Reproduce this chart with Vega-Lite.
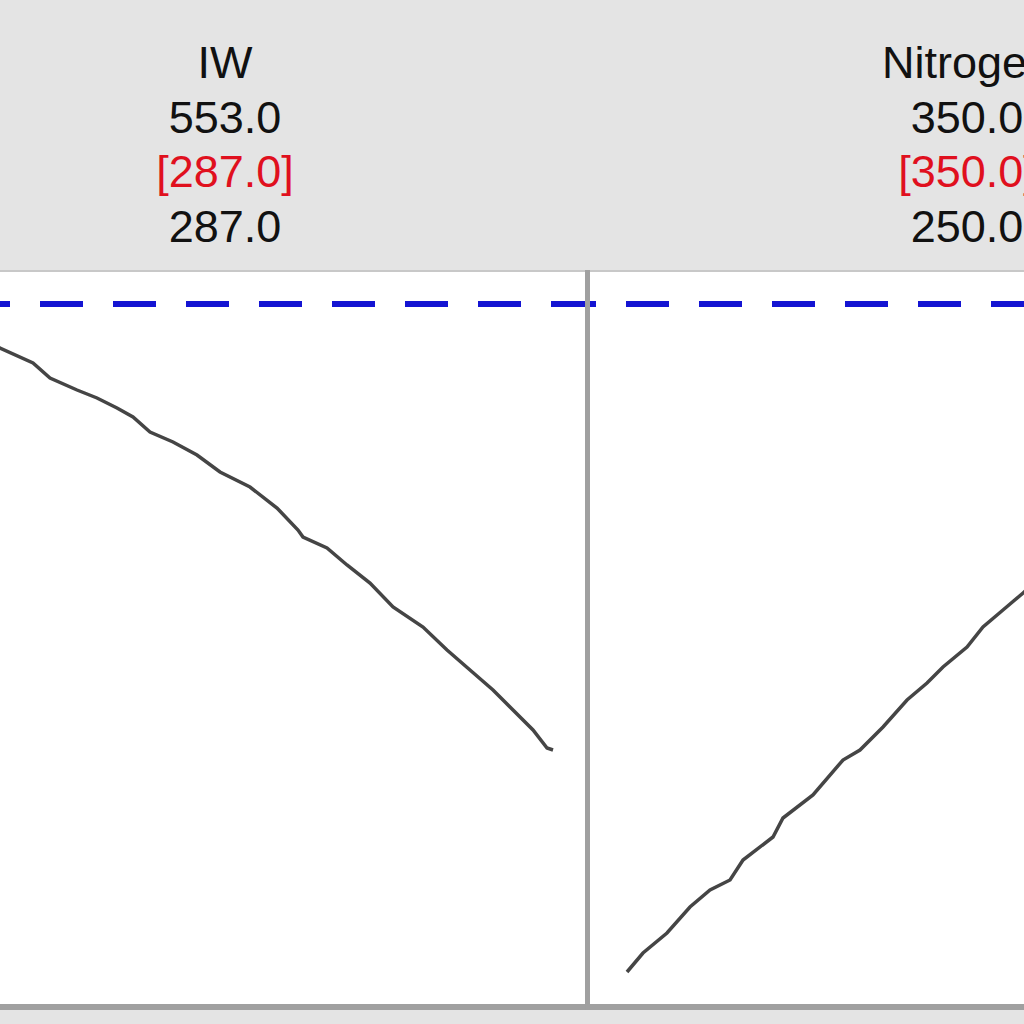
{
  "$schema": "https://vega.github.io/schema/vega-lite/v6.json",
  "padding": 0,
  "background": "#e4e4e4",
  "spacing": 0,
  "config": {"view": {"stroke": null}, "text": {"font": "Liberation Sans"}},
  "datasets": {
    "iwCurve": [
      {"iw": 320.6, "response": 6.71},
      {"iw": 328.75, "response": 6.62},
      {"iw": 342.13, "response": 6.47},
      {"iw": 349.03, "response": 6.32},
      {"iw": 359.98, "response": 6.20},
      {"iw": 368.08, "response": 6.12},
      {"iw": 376.19, "response": 6.02},
      {"iw": 382.68, "response": 5.93},
      {"iw": 389.58, "response": 5.78},
      {"iw": 398.90, "response": 5.68},
      {"iw": 408.64, "response": 5.55},
      {"iw": 417.96, "response": 5.38},
      {"iw": 430.13, "response": 5.23},
      {"iw": 441.08, "response": 5.02},
      {"iw": 449.59, "response": 4.80},
      {"iw": 451.62, "response": 4.73},
      {"iw": 461.35, "response": 4.62},
      {"iw": 469.46, "response": 4.45},
      {"iw": 478.79, "response": 4.27},
      {"iw": 488.12, "response": 4.03},
      {"iw": 500.28, "response": 3.83},
      {"iw": 510.02, "response": 3.60},
      {"iw": 519.34, "response": 3.40},
      {"iw": 528.67, "response": 3.20},
      {"iw": 536.78, "response": 3.00},
      {"iw": 544.89, "response": 2.80},
      {"iw": 550.57, "response": 2.62},
      {"iw": 553.0, "response": 2.60}
    ],
    "nCurve": [
      {"nitrogen": 250.00, "response": 0.38},
      {"nitrogen": 252.35, "response": 0.57},
      {"nitrogen": 255.88, "response": 0.77},
      {"nitrogen": 259.26, "response": 1.03},
      {"nitrogen": 262.21, "response": 1.20},
      {"nitrogen": 265.15, "response": 1.30},
      {"nitrogen": 267.06, "response": 1.50},
      {"nitrogen": 271.47, "response": 1.73},
      {"nitrogen": 272.94, "response": 1.92},
      {"nitrogen": 277.35, "response": 2.15},
      {"nitrogen": 281.76, "response": 2.50},
      {"nitrogen": 284.26, "response": 2.60},
      {"nitrogen": 287.65, "response": 2.83},
      {"nitrogen": 291.18, "response": 3.10},
      {"nitrogen": 294.12, "response": 3.27},
      {"nitrogen": 296.47, "response": 3.43},
      {"nitrogen": 300.00, "response": 3.63},
      {"nitrogen": 302.35, "response": 3.83},
      {"nitrogen": 305.29, "response": 4.00},
      {"nitrogen": 308.24, "response": 4.17},
      {"nitrogen": 311.47, "response": 4.36}
    ],
    "target": [{"response": 7.06}],
    "frameTop": [{"response": 7.39}],
    "frameBottom": [{"response": 0.03}],
    "iwHeader": [
      {"kind": "name", "label": "IW", "mid": 420},
      {"kind": "high", "label": "553.0", "mid": 420},
      {"kind": "current", "label": "[287.0]", "mid": 420},
      {"kind": "low", "label": "287.0", "mid": 420}
    ],
    "nHeader": [
      {"kind": "name", "label": "Nitrogen", "mid": 300},
      {"kind": "high", "label": "350.0", "mid": 300},
      {"kind": "current", "label": "[350.0]", "mid": 300},
      {"kind": "low", "label": "250.0", "mid": 300}
    ],
    "divider": [{"iw": 566.99}],
    "empty": []
  },
  "hconcat": [
    {
      "spacing": 0,
      "vconcat": [
        {
          "width": 590,
          "height": 270,
          "data": {"name": "iwHeader"},
          "mark": {"type": "text", "fontSize": 45, "align": "center", "baseline": "alphabetic", "dy": 25, "clip": true},
          "encoding": {
            "x": {"field": "mid", "type": "quantitative", "scale": {"domain": [328.75, 568.0], "nice": false, "zero": false}, "axis": null},
            "y": {"field": "kind", "type": "ordinal", "scale": {"type": "point", "domain": ["name", "high", "current", "low"], "padding": 0.968}, "axis": null},
            "text": {"field": "label"},
            "color": {"field": "kind", "type": "nominal", "scale": {"domain": ["name", "high", "current", "low"], "range": ["#111111", "#111111", "#e0101e", "#111111"]}, "legend": null}
          }
        },
        {
          "width": 590,
          "height": 740,
          "view": {"fill": "white", "stroke": null},
          "layer": [
            {
              "data": {"name": "iwCurve"},
              "mark": {"type": "line", "color": "#454545", "strokeWidth": 3.5, "clip": true},
              "encoding": {
                "x": {"field": "iw", "type": "quantitative", "scale": {"domain": [328.75, 568.0], "nice": false, "zero": false}, "axis": null},
                "y": {"field": "response", "type": "quantitative", "scale": {"domain": [0, 7.4], "nice": false, "zero": false}, "axis": null}
              }
            },
            {
              "data": {"name": "target"},
              "mark": {"type": "rule", "color": "#1414d2", "strokeWidth": 6, "strokeDash": [43, 30], "strokeDashOffset": 4, "clip": true},
              "encoding": {
                "y": {"field": "response", "type": "quantitative", "scale": {"domain": [0, 7.4], "nice": false, "zero": false}, "axis": null}
              }
            },
            {
              "data": {"name": "frameTop"},
              "mark": {"type": "rule", "color": "#c8c8c8", "strokeWidth": 2, "clip": true},
              "encoding": {
                "y": {"field": "response", "type": "quantitative", "scale": {"domain": [0, 7.4], "nice": false, "zero": false}, "axis": null}
              }
            },
            {
              "data": {"name": "frameBottom"},
              "mark": {"type": "rule", "color": "#a0a0a0", "strokeWidth": 6, "clip": true},
              "encoding": {
                "y": {"field": "response", "type": "quantitative", "scale": {"domain": [0, 7.4], "nice": false, "zero": false}, "axis": null}
              }
            },
            {
              "data": {"name": "divider"},
              "mark": {"type": "rule", "color": "#a0a0a0", "strokeWidth": 5, "clip": true},
              "encoding": {
                "x": {"field": "iw", "type": "quantitative", "scale": {"domain": [328.75, 568.0], "nice": false, "zero": false}, "axis": null}
              }
            }
          ]
        },
        {
          "width": 590,
          "height": 14,
          "data": {"name": "empty"},
          "mark": "rule",
          "encoding": {}
        }
      ]
    },
    {
      "spacing": 0,
      "vconcat": [
        {
          "width": 434,
          "height": 270,
          "data": {"name": "nHeader"},
          "mark": {"type": "text", "fontSize": 45, "align": "center", "baseline": "alphabetic", "dy": 25, "clip": true},
          "encoding": {
            "x": {"field": "mid", "type": "quantitative", "scale": {"domain": [244.56, 308.38], "nice": false, "zero": false}, "axis": null},
            "y": {"field": "kind", "type": "ordinal", "scale": {"type": "point", "domain": ["name", "high", "current", "low"], "padding": 0.968}, "axis": null},
            "text": {"field": "label"},
            "color": {"field": "kind", "type": "nominal", "scale": {"domain": ["name", "high", "current", "low"], "range": ["#111111", "#111111", "#e0101e", "#111111"]}, "legend": null}
          }
        },
        {
          "width": 434,
          "height": 740,
          "view": {"fill": "white", "stroke": null},
          "layer": [
            {
              "data": {"name": "nCurve"},
              "mark": {"type": "line", "color": "#454545", "strokeWidth": 3.5, "clip": true},
              "encoding": {
                "x": {"field": "nitrogen", "type": "quantitative", "scale": {"domain": [244.56, 308.38], "nice": false, "zero": false}, "axis": null},
                "y": {"field": "response", "type": "quantitative", "scale": {"domain": [0, 7.4], "nice": false, "zero": false}, "axis": null}
              }
            },
            {
              "data": {"name": "target"},
              "mark": {"type": "rule", "color": "#1414d2", "strokeWidth": 6, "strokeDash": [43, 30], "strokeDashOffset": 10, "clip": true},
              "encoding": {
                "y": {"field": "response", "type": "quantitative", "scale": {"domain": [0, 7.4], "nice": false, "zero": false}, "axis": null}
              }
            },
            {
              "data": {"name": "frameTop"},
              "mark": {"type": "rule", "color": "#c8c8c8", "strokeWidth": 2, "clip": true},
              "encoding": {
                "y": {"field": "response", "type": "quantitative", "scale": {"domain": [0, 7.4], "nice": false, "zero": false}, "axis": null}
              }
            },
            {
              "data": {"name": "frameBottom"},
              "mark": {"type": "rule", "color": "#a0a0a0", "strokeWidth": 6, "clip": true},
              "encoding": {
                "y": {"field": "response", "type": "quantitative", "scale": {"domain": [0, 7.4], "nice": false, "zero": false}, "axis": null}
              }
            }
          ]
        }
      ]
    }
  ]
}
